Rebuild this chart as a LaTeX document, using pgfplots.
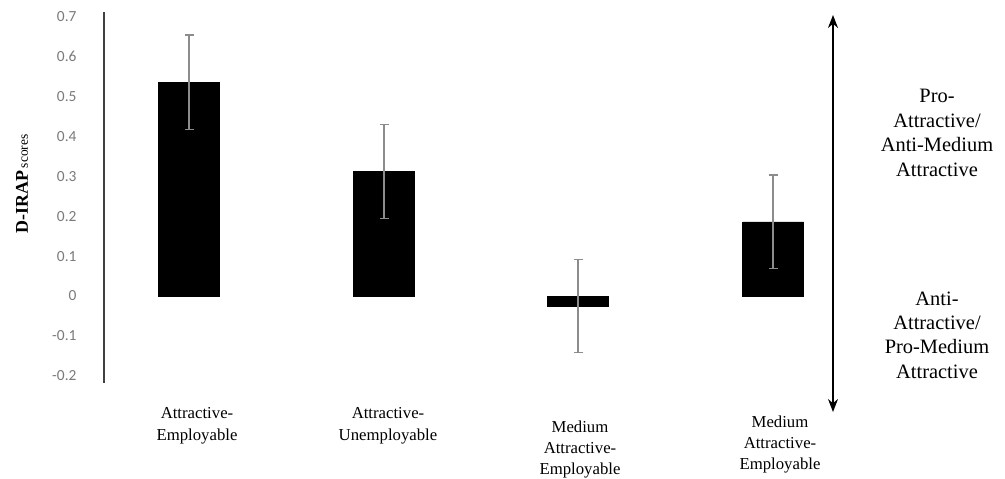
\documentclass[border=0pt]{standalone}
\usepackage{pgfplots}
\pgfplotsset{compat=1.18}
\usepackage{fontspec}
\setmainfont{Liberation Serif}
\newfontfamily\carlitofont{Carlito}
\usetikzlibrary{arrows.meta}
\definecolor{errgray}{HTML}{8C8C8C}
\definecolor{tickgray}{HTML}{7A7A7A}
\begin{document}
\begin{tikzpicture}[x=1bp,y=1bp]
\path[use as bounding box] (0,0) rectangle (1005,479);
\begin{axis}[
  at={(104bp,96bp)}, anchor=south west,
  scale only axis, width=901bp, height=371bp,
  xmin=104, xmax=1005, ymin=-0.218, ymax=0.712,
  axis x line=none, axis y line=left,
  y axis line style={-, line width=1.3bp, draw=black!75},
  ytick={-0.2,-0.1,0,0.1,0.2,0.3,0.4,0.5,0.6,0.7},
  yticklabels={-0.2,-0.1,0,0.1,0.2,0.3,0.4,0.5,0.6,0.7},
  major tick length=0pt,
  yticklabel style={font=\carlitofont\fontsize{15.5}{17}\selectfont, text=tickgray, anchor=east, xshift=-24bp},
  clip=false,
]
\addplot[ybar, bar width=61bp, bar shift=0pt, fill=black, draw=black,
  error bars/.cd, y dir=both, y explicit,
  error bar style={errgray, line width=1.4bp},
  error mark options={errgray, rotate=90, mark size=4.5bp, line width=1.4bp}]
coordinates {
  (189,0.536) +- (0,0.118)
  (384,0.312) +- (0,0.118)
  (578,-0.025) +- (0,0.117)
  (773,0.186) +- (0,0.117)
};
\end{axis}
% y label
\node[rotate=90, anchor=center] at (22,295) {{\fontsize{18}{20}\selectfont\bfseries D-IRAP} {\fontsize{13.5}{15}\selectfont scores}};
% x category labels
\begin{scope}[every node/.style={align=center, anchor=north, font=\fontsize{16.8}{21.5}\selectfont}]
\node at (197,75) {Attractive-\\Employable};
\node at (388,75) {Attractive-\\Unemployable};
\node at (580,62) {Medium\\Attractive-\\Employable};
\node at (780,67) {Medium\\Attractive-\\Employable};
\end{scope}
% arrow
\draw[line width=1.4bp, {Stealth[length=13bp,width=10bp]}-{Stealth[length=13bp,width=10bp]}] (833,464) -- (833,67);
% right annotations
\begin{scope}[every node/.style={align=center, anchor=north, font=\fontsize{20.5}{24.5}\selectfont}]
\node at (937,393) {Pro-\\Attractive/\\Anti-Medium\\Attractive};
\node at (937,191) {Anti-\\Attractive/\\Pro-Medium\\Attractive};
\end{scope}
\end{tikzpicture}
\end{document}
